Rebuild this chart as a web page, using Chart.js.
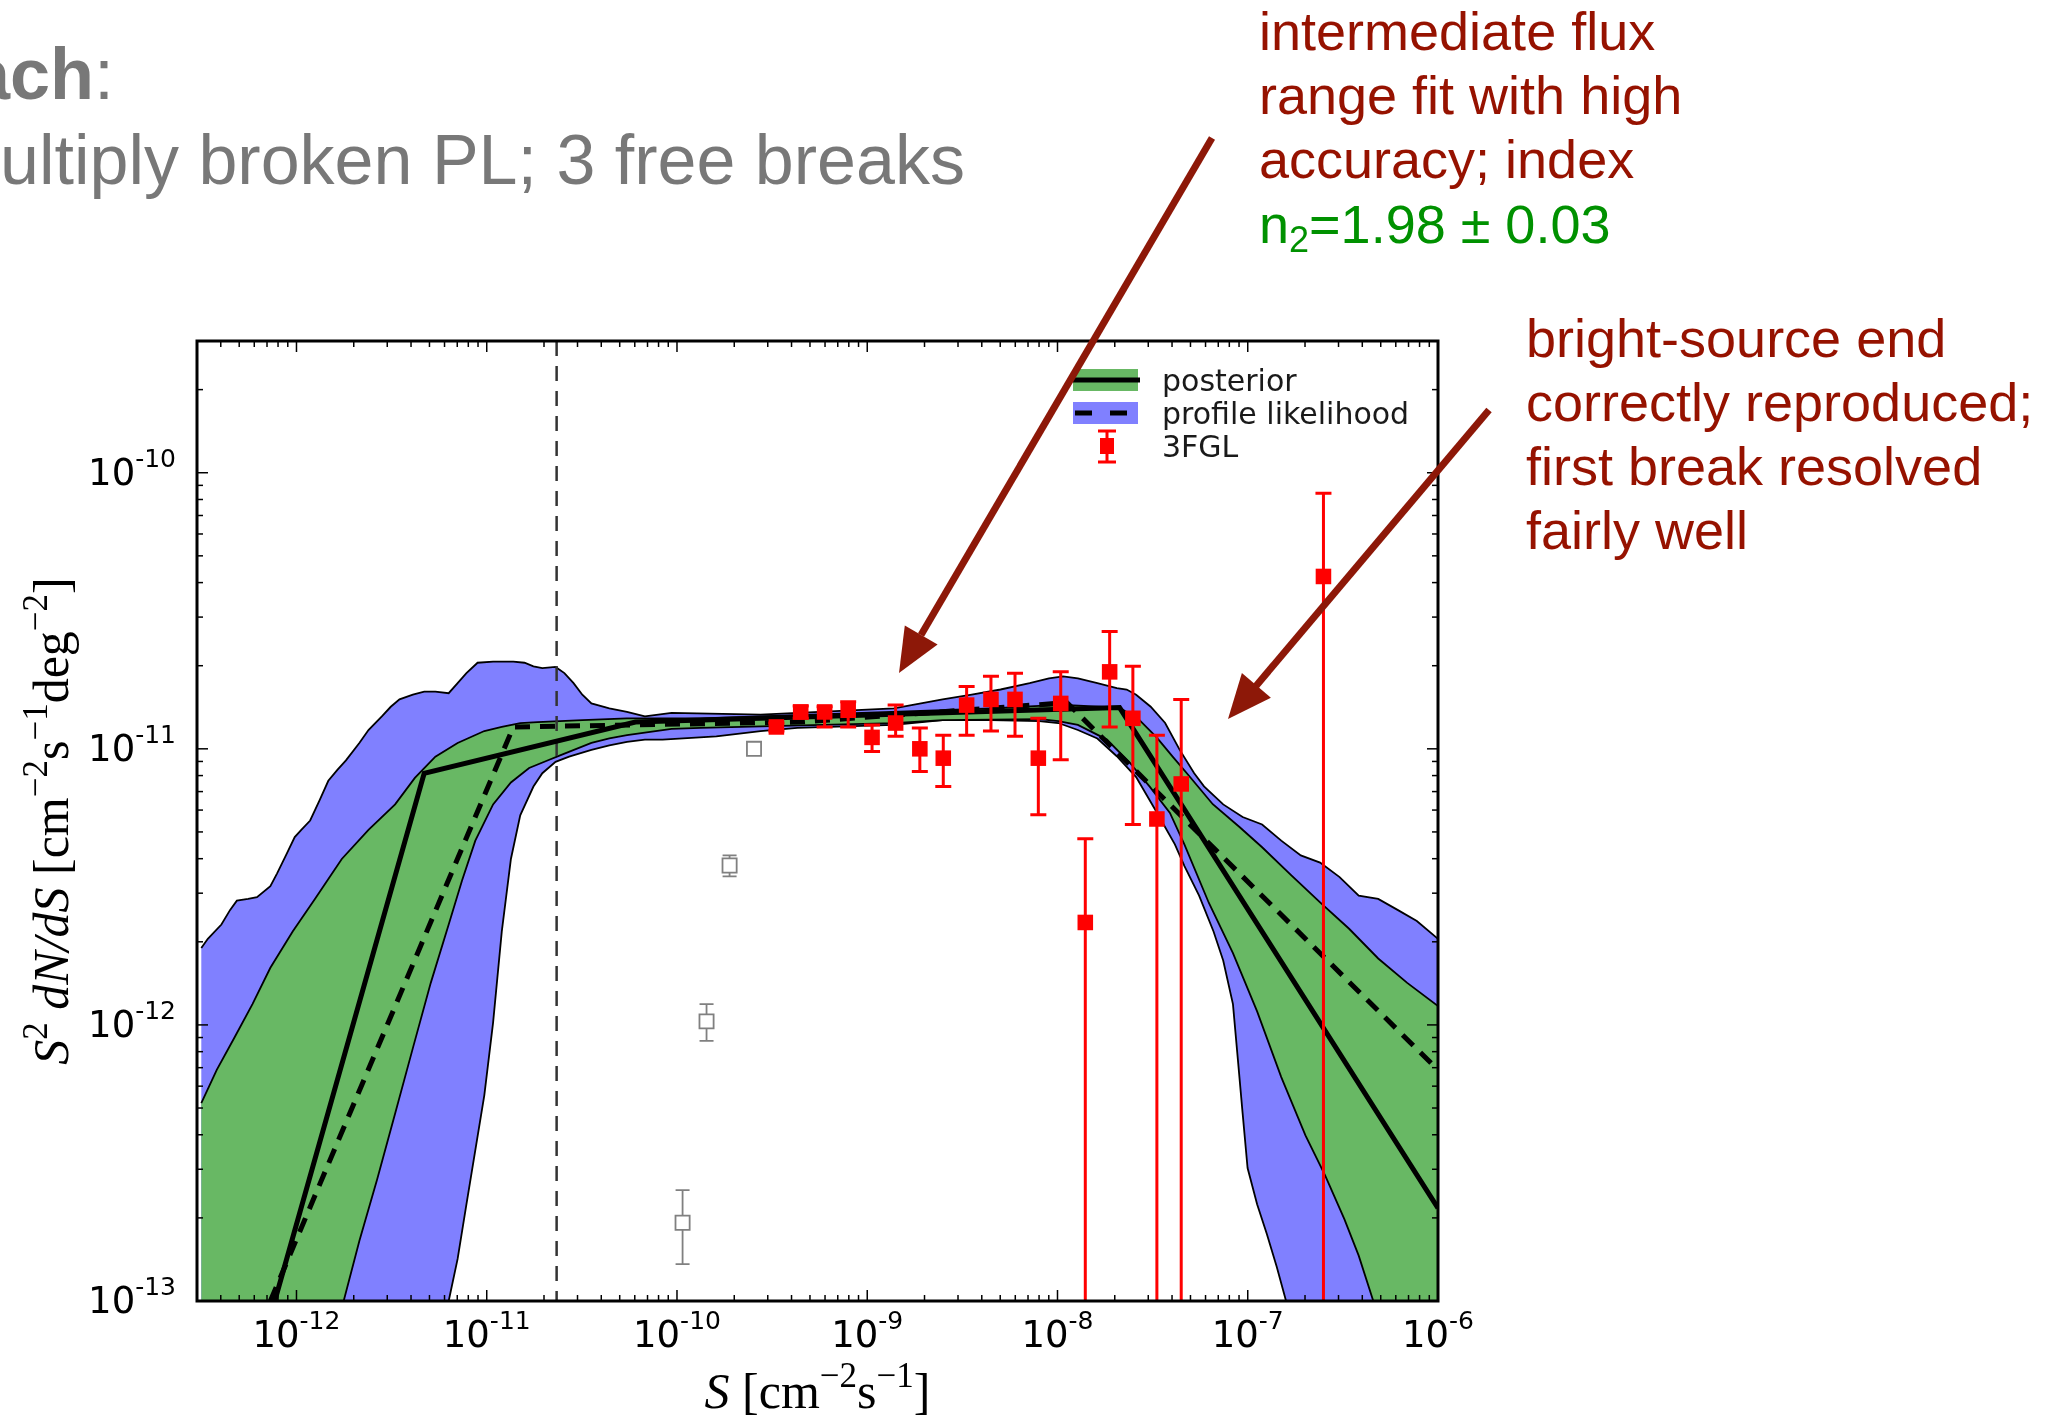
<!DOCTYPE html>
<html>
<head>
<meta charset="utf-8">
<title>S2 dN/dS vs S</title>
<script src="https://cdn.jsdelivr.net/npm/chart.js@4.4.1/dist/chart.umd.min.js"></script>
<style>
  html, body { margin: 0; padding: 0; background: #fff; }
  #wrap { position: relative; width: 2061px; height: 1419px; overflow: hidden; }
  #wrap canvas, #wrap svg { position: absolute; left: 0; top: 0; }
</style>
</head>
<body>
<div id="wrap">
<canvas id="chart" width="2061" height="1419"></canvas>
<svg width="2061" height="1419" xmlns="http://www.w3.org/2000/svg">
  <g font-family="'Liberation Sans', Arial, sans-serif">
    <text x="-30" y="99" font-size="72" font-weight="bold" fill="#787878">ach<tspan font-weight="normal">:</tspan></text>
    <text x="0" y="184" font-size="70" fill="#787878">ultiply broken PL; 3 free breaks</text>
    <g font-size="54" fill="#961200">
      <text x="1259" y="50">intermediate flux</text>
      <text x="1259" y="114">range fit with high</text>
      <text x="1259" y="178">accuracy; index</text>
      <text x="1526" y="357">bright-source end</text>
      <text x="1526" y="421">correctly reproduced;</text>
      <text x="1526" y="485">first break resolved</text>
      <text x="1526" y="549">fairly well</text>
    </g>
    <text x="1259" y="243" font-size="54" fill="#009100">n<tspan font-size="36" dy="9">2</tspan><tspan dy="-9">=1.98 ± 0.03</tspan></text>
  </g>
  <g stroke="#8d1808" stroke-width="7" fill="#8d1808">
    <line x1="1212" y1="138" x2="921" y2="635"/>
    <polygon stroke="none" points="899,673 937.6,644.6 904.8,625.4"/>
    <line x1="1489" y1="410" x2="1256" y2="686"/>
    <polygon stroke="none" points="1228,719 1270.9,697.7 1241.9,673.1"/>
  </g>
</svg>
</div>
<script>
const canvas = document.getElementById('chart');
const ctx = canvas.getContext('2d');

// axis limits
const xMin = 3.16e-13, xMax = 1e-6;
const yMin = 1e-13, yMax = 3e-10;

// decade ticks
const xTickValues = [1e-12, 1e-11, 1e-10, 1e-9, 1e-8, 1e-7, 1e-6];
const xTickLabels = ['-12', '-11', '-10', '-9', '-8', '-7', '-6'];
const yTickValues = [1e-13, 1e-12, 1e-11, 1e-10];
const yTickLabels = ['-13', '-12', '-11', '-10'];

const legendLabels = ['posterior', 'profile likelihood', '3FGL'];

// profile likelihood band [S, S^2 dN/dS]
const profileBandUpper = [
  [3.16e-13, 1.90e-12], [3.42e-13, 2.05e-12], [4.03e-13, 2.31e-12], [4.48e-13, 2.61e-12],
  [4.86e-13, 2.82e-12], [5.57e-13, 2.86e-12], [6.20e-13, 2.90e-12], [7.29e-13, 3.18e-12],
  [7.91e-13, 3.54e-12], [8.80e-13, 4.11e-12], [9.79e-13, 4.79e-12], [1.06e-12, 5.09e-12],
  [1.18e-12, 5.50e-12], [1.32e-12, 6.49e-12], [1.47e-12, 7.66e-12], [1.64e-12, 8.39e-12],
  [1.82e-12, 9.08e-12], [2.14e-12, 1.05e-11], [2.39e-12, 1.17e-11], [2.81e-12, 1.31e-11],
  [3.13e-12, 1.42e-11], [3.48e-12, 1.51e-11], [4.09e-12, 1.57e-11], [4.69e-12, 1.61e-11],
  [5.37e-12, 1.61e-11], [6.31e-12, 1.59e-11], [7.03e-12, 1.73e-11], [7.82e-12, 1.88e-11],
  [8.95e-12, 2.05e-11], [1.08e-11, 2.07e-11], [1.38e-11, 2.07e-11], [1.58e-11, 2.05e-11],
  [1.76e-11, 1.99e-11], [1.96e-11, 1.96e-11], [2.30e-11, 1.98e-11], [2.56e-11, 1.88e-11],
  [2.86e-11, 1.73e-11], [3.18e-11, 1.57e-11], [3.55e-11, 1.46e-11], [4.41e-11, 1.40e-11],
  [5.46e-11, 1.36e-11], [6.78e-11, 1.31e-11], [9.37e-11, 1.35e-11], [2.75e-10, 1.33e-11],
  [1.38e-9, 1.40e-11], [2.49e-9, 1.51e-11], [3.54e-9, 1.57e-11], [5.02e-9, 1.64e-11],
  [7.14e-9, 1.73e-11], [9.02e-9, 1.80e-11], [1.07e-8, 1.83e-11], [1.28e-8, 1.80e-11],
  [1.62e-8, 1.73e-11], [2.05e-8, 1.66e-11], [2.31e-8, 1.64e-11], [2.59e-8, 1.57e-11],
  [3.09e-8, 1.42e-11], [3.68e-8, 1.24e-11], [4.39e-8, 9.91e-12], [5.23e-8, 8.16e-12],
  [5.89e-8, 7.31e-12], [7.43e-8, 6.29e-12], [9.40e-8, 5.66e-12], [1.19e-7, 5.32e-12],
  [1.50e-7, 4.65e-12], [1.90e-7, 4.11e-12], [2.40e-7, 3.87e-12], [3.04e-7, 3.43e-12],
  [3.83e-7, 2.94e-12], [4.85e-7, 2.86e-12], [6.13e-7, 2.61e-12], [7.74e-7, 2.38e-12],
  [1e-6, 2.05e-12]
];
const profileBandLower = [
  [6.31e-12, 1.00e-13], [7.03e-12, 1.42e-13], [7.82e-12, 2.24e-13], [8.71e-12, 3.52e-13],
  [9.71e-12, 5.56e-13], [1.08e-11, 1.02e-12], [1.20e-11, 2.18e-12], [1.34e-11, 3.99e-12],
  [1.50e-11, 5.74e-12], [1.76e-11, 7.30e-12], [1.96e-11, 8.16e-12], [2.30e-11, 8.97e-12],
  [2.71e-11, 9.37e-12], [3.55e-11, 9.91e-12], [4.41e-11, 1.03e-11], [5.46e-11, 1.06e-11],
  [6.78e-11, 1.08e-11], [8.40e-11, 1.08e-11], [1.61e-10, 1.11e-11], [2.75e-10, 1.16e-11],
  [4.29e-10, 1.19e-11], [1.38e-9, 1.22e-11], [2.49e-9, 1.27e-11], [4.47e-9, 1.27e-11],
  [8.02e-9, 1.26e-11], [1.01e-8, 1.24e-11], [1.28e-8, 1.17e-11], [1.62e-8, 1.09e-11],
  [2.05e-8, 9.40e-12], [2.59e-8, 7.90e-12], [3.27e-8, 6.00e-12], [4.14e-8, 4.51e-12],
  [4.65e-8, 3.76e-12], [5.55e-8, 2.94e-12], [6.61e-8, 2.18e-12], [7.43e-8, 1.71e-12],
  [8.36e-8, 1.19e-12], [8.87e-8, 7.52e-13], [9.40e-8, 4.78e-13], [9.98e-8, 3.03e-13],
  [1.12e-7, 2.24e-13], [1.26e-7, 1.75e-13], [1.42e-7, 1.33e-13], [1.59e-7, 1.00e-13]
];

// posterior band
const posteriorBandUpper = [
  [3.16e-13, 5.21e-13], [3.81e-13, 6.87e-13], [4.73e-13, 9.02e-13], [5.87e-13, 1.19e-12],
  [7.29e-13, 1.61e-12], [9.55e-13, 2.18e-12], [1.25e-12, 2.86e-12], [1.73e-12, 3.99e-12],
  [2.39e-12, 5.09e-12], [3.30e-12, 6.29e-12], [4.19e-12, 7.85e-12], [5.37e-12, 9.37e-12],
  [7.03e-12, 1.05e-11], [9.71e-12, 1.16e-11], [1.20e-11, 1.20e-11], [1.50e-11, 1.24e-11],
  [1.85e-11, 1.25e-11], [3.18e-11, 1.27e-11], [5.46e-11, 1.29e-11], [1.33e-10, 1.29e-11],
  [2.49e-9, 1.38e-11], [4.47e-9, 1.40e-11], [8.02e-9, 1.43e-11], [1.14e-8, 1.44e-11],
  [2.12e-8, 1.41e-11], [2.70e-8, 1.27e-11], [3.32e-8, 1.10e-11], [4.04e-8, 9.35e-12],
  [4.96e-8, 7.92e-12], [6.55e-8, 6.30e-12], [9.08e-8, 5.20e-12], [1.19e-7, 4.40e-12],
  [1.69e-7, 3.49e-12], [2.40e-7, 2.78e-12], [3.41e-7, 2.23e-12], [4.85e-7, 1.74e-12],
  [6.89e-7, 1.42e-12], [1e-6, 1.17e-12]
];
const posteriorBandLower = [
  [1.77e-12, 1.00e-13], [2.14e-12, 1.65e-13], [2.66e-12, 2.77e-13], [3.30e-12, 4.78e-13],
  [4.09e-12, 8.24e-13], [5.08e-12, 1.42e-12], [6.31e-12, 2.31e-12], [7.41e-12, 3.33e-12],
  [8.71e-12, 4.65e-12], [1.08e-11, 6.29e-12], [1.34e-11, 7.55e-12], [1.67e-11, 8.52e-12],
  [2.07e-11, 9.05e-12], [2.43e-11, 9.47e-12], [3.55e-11, 1.05e-11], [4.41e-11, 1.09e-11],
  [5.46e-11, 1.12e-11], [9.37e-11, 1.18e-11], [1.33e-10, 1.19e-11], [1.38e-9, 1.24e-11],
  [2.49e-9, 1.27e-11], [8.02e-9, 1.28e-11], [1.01e-8, 1.26e-11], [1.28e-8, 1.22e-11],
  [1.82e-8, 1.08e-11], [2.40e-8, 8.90e-12], [3.06e-8, 7.28e-12], [3.90e-8, 5.86e-12],
  [4.65e-8, 4.50e-12], [6.24e-8, 2.77e-12], [8.36e-8, 1.82e-12], [1.12e-7, 1.12e-12],
  [1.50e-7, 6.47e-13], [2.01e-7, 3.98e-13], [2.55e-7, 2.85e-13], [3.22e-7, 1.98e-13],
  [3.83e-7, 1.46e-13], [4.57e-7, 1.00e-13]
];

// best-fit broken power laws
const posteriorLine = [[7.69e-13, 1.00e-13], [4.69e-12, 8.15e-12], [6.05e-11, 1.25e-11], [2.12e-8, 1.41e-11], [1e-6, 2.17e-13]];
const profileLine = [[7.29e-13, 1.00e-13], [1.38e-11, 1.20e-11], [4.45e-10, 1.25e-11], [1.12e-8, 1.47e-11], [1e-6, 6.87e-13]];

// 3FGL points (0 = error bar reaches zero)
const fglS  = [3.33e-10, 4.47e-10, 5.97e-10, 7.94e-10, 1.06e-9, 1.41e-9, 1.89e-9, 2.51e-9, 3.33e-9, 4.47e-9, 5.98e-9, 7.93e-9, 1.04e-8, 1.40e-8, 1.88e-8, 2.49e-8, 3.33e-8, 4.47e-8, 2.50e-7];
const fglY  = [1.20e-11, 1.36e-11, 1.36e-11, 1.38e-11, 1.10e-11, 1.24e-11, 1.00e-11, 9.25e-12, 1.44e-11, 1.51e-11, 1.51e-11, 9.25e-12, 1.46e-11, 2.35e-12, 1.90e-11, 1.29e-11, 5.57e-12, 7.46e-12, 4.21e-11];
const fglLo = [1.16e-11, 1.29e-11, 1.20e-11, 1.20e-11, 9.77e-12, 1.11e-11, 8.28e-12, 7.30e-12, 1.12e-11, 1.16e-11, 1.11e-11, 5.77e-12, 9.12e-12, 0, 1.20e-11, 5.32e-12, 0, 0, 0];
const fglHi = [1.24e-11, 1.43e-11, 1.42e-11, 1.48e-11, 1.22e-11, 1.44e-11, 1.19e-11, 1.12e-11, 1.68e-11, 1.83e-11, 1.88e-11, 1.29e-11, 1.90e-11, 4.72e-12, 2.66e-11, 1.99e-11, 1.12e-11, 1.51e-11, 8.43e-11];

// faint grey points
const faintS  = [2.54e-10, 1.89e-10, 1.43e-10, 1.07e-10];
const faintY  = [1.00e-11, 3.78e-12, 1.03e-12, 1.92e-13];
const faintLo = [9.70e-12, 3.45e-12, 8.75e-13, 1.36e-13];
const faintHi = [1.00e-11, 4.11e-12, 1.19e-12, 2.52e-13];

// sensitivity threshold
const thresholdS = 2.33e-11;

const posteriorFill = '#68b864';
const profileFill = '#8080ff';

const toXY = pts => pts.map(p => ({x: p[0], y: p[1]}));
const zipXY = (xs, ys) => xs.map((v, i) => ({x: v, y: ys[i]}));

// outline of a band: top edge left to right, down the right side, bottom edge back, along the axis
function bandShape(upper, lower) {
  return toXY([...upper, [xMax, yMin], ...lower.slice().reverse(), [xMin, yMin]]);
}

const errorBars = {
  id: 'errorBars',
  beforeDatasetDraw(chart, args) {
    const ds = chart.data.datasets[args.index];
    if (!ds.errHi) return;
    const c = chart.ctx, a = chart.chartArea;
    const xs = chart.scales.x, ys = chart.scales.y;
    c.save();
    c.beginPath();
    c.rect(a.left, a.top, a.right - a.left, a.bottom - a.top);
    c.clip();
    c.strokeStyle = ds.errColor;
    c.lineWidth = ds.errWidth;
    ds.data.forEach((p, i) => {
      const px = xs.getPixelForValue(p.x);
      const top = ys.getPixelForValue(ds.errHi[i]);
      const low = ds.errLo[i] > 0 ? ys.getPixelForValue(ds.errLo[i]) : a.bottom + 5;
      c.beginPath();
      c.moveTo(px, top);
      c.lineTo(px, low);
      c.moveTo(px - ds.capHalf, top);
      c.lineTo(px + ds.capHalf, top);
      if (ds.errLo[i] > 0) {
        c.moveTo(px - ds.capHalf, low);
        c.lineTo(px + ds.capHalf, low);
      }
      c.stroke();
    });
    c.restore();
  }
};

function drawPower(c, exp, x, y, align) {
  c.font = '37px "DejaVu Sans"';
  const wBase = c.measureText('10').width;
  c.font = '25px "DejaVu Sans"';
  const wExp = c.measureText(exp).width;
  const total = wBase + wExp;
  const start = align === 'center' ? x - total / 2 : x - total;
  c.font = '37px "DejaVu Sans"';
  c.fillText('10', start, y);
  c.font = '25px "DejaVu Sans"';
  c.fillText(exp, start + wBase, y - 18);
}

function drawRich(c, parts, size) {
  const fontOf = p => (p.it ? 'italic ' : '') + (p.sup ? Math.round(size * 0.7) : size) + 'px "Liberation Serif"';
  let total = 0;
  const widths = parts.map(p => {
    c.font = fontOf(p);
    const w = c.measureText(p.t).width;
    total += w;
    return w;
  });
  let cx = -total / 2;
  parts.forEach((p, i) => {
    c.font = fontOf(p);
    c.fillText(p.t, cx, p.sup ? -size * 0.42 : 0);
    cx += widths[i];
  });
}

const xTitleParts = [{t: 'S', it: true}, {t: ' [cm'}, {t: '\u22122', sup: true}, {t: 's'}, {t: '\u22121', sup: true}, {t: ']'}];
const yTitleParts = [{t: 'S', it: true}, {t: '2', sup: true}, {t: ' dN/dS', it: true}, {t: ' [cm'}, {t: '\u22122', sup: true},
  {t: 's'}, {t: '\u22121', sup: true}, {t: 'deg'}, {t: '\u22122', sup: true}, {t: ']'}];

const axisDecor = {
  id: 'axisDecor',
  afterDatasetsDraw(chart) {
    const c = chart.ctx, a = chart.chartArea;
    const xs = chart.scales.x, ys = chart.scales.y;
    c.save();
    c.strokeStyle = '#000';
    c.lineWidth = 1.5;
    const tick = (x1, y1, x2, y2) => { c.beginPath(); c.moveTo(x1, y1); c.lineTo(x2, y2); c.stroke(); };
    const mult = [1, 2, 3, 4, 5, 6, 7, 8, 9];
    for (let k = -13; k <= -6; k++) {
      mult.forEach(m => {
        const v = m * Math.pow(10, k);
        const len = m === 1 ? 11 : 6;
        if (v > xMin && v < xMax) {
          const px = xs.getPixelForValue(v);
          tick(px, a.bottom, px, a.bottom - len);
          tick(px, a.top, px, a.top + len);
        }
        if (v > yMin && v < yMax) {
          const py = ys.getPixelForValue(v);
          tick(a.left, py, a.left + len, py);
          tick(a.right, py, a.right - len, py);
        }
      });
    }
    c.lineWidth = 3;
    c.strokeRect(a.left, a.top, a.right - a.left, a.bottom - a.top);

    // tick labels
    c.fillStyle = '#000';
    c.textBaseline = 'alphabetic';
    c.textAlign = 'left';
    xTickValues.forEach((v, i) => drawPower(c, xTickLabels[i], xs.getPixelForValue(v), a.bottom + 46, 'center'));
    yTickValues.forEach((v, i) => drawPower(c, yTickLabels[i], a.left - 21, ys.getPixelForValue(v) + 12, 'right'));

    // axis titles
    c.save();
    c.translate((a.left + a.right) / 2, a.bottom + 107);
    drawRich(c, xTitleParts, 50);
    c.restore();
    c.save();
    c.translate(68, (a.top + a.bottom) / 2);
    c.rotate(-Math.PI / 2);
    drawRich(c, yTitleParts, 50);
    c.restore();

    // legend
    const lx = a.right - 365, tx = a.right - 276;
    const rows = [a.top + 39, a.top + 72, a.top + 105];
    c.fillStyle = posteriorFill;
    c.fillRect(lx, rows[0] - 11, 65, 22);
    c.strokeStyle = '#000';
    c.lineWidth = 5;
    c.beginPath(); c.moveTo(lx, rows[0]); c.lineTo(lx + 67, rows[0]); c.stroke();
    c.fillStyle = profileFill;
    c.fillRect(lx, rows[1] - 11, 65, 22);
    c.setLineDash([17, 18]);
    c.beginPath(); c.moveTo(lx + 2, rows[1]); c.lineTo(lx + 65, rows[1]); c.stroke();
    c.setLineDash([]);
    const mx = lx + 34;
    c.strokeStyle = '#ff0000';
    c.lineWidth = 3;
    c.beginPath();
    c.moveTo(mx, rows[2] - 15); c.lineTo(mx, rows[2] + 16);
    c.moveTo(mx - 9, rows[2] - 15); c.lineTo(mx + 9, rows[2] - 15);
    c.moveTo(mx - 9, rows[2] + 16); c.lineTo(mx + 9, rows[2] + 16);
    c.stroke();
    c.fillStyle = '#ff0000';
    c.fillRect(mx - 7, rows[2] - 8, 14, 16);
    c.fillStyle = '#1a1a1a';
    c.font = '30px "DejaVu Sans"';
    legendLabels.forEach((t, i) => c.fillText(t, tx, rows[i] + 11));
    c.restore();
  }
};

new Chart(ctx, {
  type: 'line',
  data: {
    datasets: [
      {
        label: '3FGL', data: zipXY(fglS, fglY), showLine: false,
        pointStyle: 'rect', pointRadius: 11, backgroundColor: '#ff0000', borderColor: '#ff0000', borderWidth: 0,
        order: 0, errLo: fglLo, errHi: fglHi, errColor: '#ff0000', errWidth: 3, capHalf: 8
      },
      {
        label: 'faint', data: zipXY(faintS, faintY), showLine: false,
        pointStyle: 'rect', pointRadius: 10, backgroundColor: '#ffffff', borderColor: '#808080', borderWidth: 1.8,
        order: 1, errLo: faintLo, errHi: faintHi, errColor: '#808080', errWidth: 1.8, capHalf: 7
      },
      {
        label: 'posterior', data: toXY(posteriorLine), borderColor: '#000', borderWidth: 5,
        pointRadius: 0, fill: false, order: 2, clip: 0
      },
      {
        label: 'profile likelihood', data: toXY(profileLine), borderColor: '#000', borderWidth: 5,
        borderDash: [15, 10], pointRadius: 0, fill: false, order: 3, clip: 0
      },
      {
        label: 'threshold', data: [{x: thresholdS, y: yMax}, {x: thresholdS, y: yMin}],
        borderColor: '#333', borderWidth: 2.5, borderDash: [15, 10], pointRadius: 0, fill: false, order: 4, clip: 0
      },
      {
        label: 'posterior band', data: bandShape(posteriorBandUpper, posteriorBandLower),
        fill: 'shape', backgroundColor: posteriorFill, borderColor: '#000', borderWidth: 1.8,
        pointRadius: 0, order: 5, clip: 0
      },
      {
        label: 'profile band', data: bandShape(profileBandUpper, profileBandLower),
        fill: 'shape', backgroundColor: profileFill, borderColor: '#000', borderWidth: 1.8,
        pointRadius: 0, order: 6, clip: 0
      }
    ]
  },
  options: {
    responsive: false,
    animation: false,
    events: [],
    layout: { padding: { left: 0, right: 623, top: 341, bottom: 0 } },
    plugins: { legend: { display: false }, tooltip: { enabled: false } },
    scales: {
      x: {
        type: 'logarithmic', min: xMin, max: xMax,
        ticks: { display: false }, grid: { display: false }, border: { display: false },
        afterFit(scale) { scale.height = 118; }
      },
      y: {
        type: 'logarithmic', min: yMin, max: yMax,
        ticks: { display: false }, grid: { display: false }, border: { display: false },
        afterFit(scale) { scale.width = 197; }
      }
    }
  },
  plugins: [errorBars, axisDecor]
});
</script>
</body>
</html>
